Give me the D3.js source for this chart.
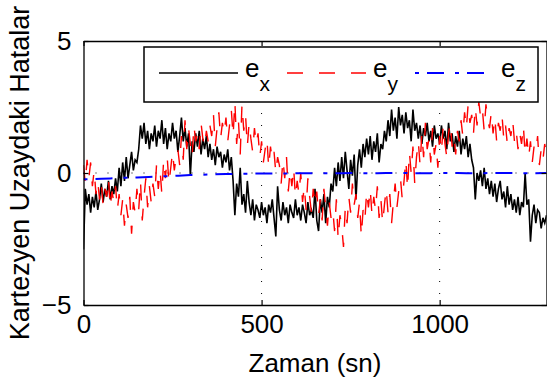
<!DOCTYPE html>
<html>
<head>
<meta charset="utf-8">
<script src="https://cdn.jsdelivr.net/npm/d3@7"></script>
<style>
  body { margin: 0; background: #fff; }
  text { font-family: "Liberation Sans", Arial, Helvetica, sans-serif; fill: #000; }
</style>
</head>
<body>
<div class="chart"></div>
<script>
// sample times (sn), one every 5 seconds
var times = d3.range(0, 1305, 5);

// e_x (black, solid)
var ex = [
  -2.9, -0.6, -1.2, -0.8, -1.5, -0.9, -1.3, -0.7, -1.4, -1.0,
  -0.4, -1.1, -0.6, -0.9, -0.3, -1.0, -0.5, -0.8, -0.2, -0.7,
  0.2, -0.5, 0.4, -0.3, 0.6, -0.2, 0.3, 0.8, 0.1, 0.5,
  0.4, 0.9, 1.8, 1.3, 1.9, 1.1, 1.6, 0.9, 1.5, 1.2,
  1.8, 1.0, 1.6, 1.3, 2.0, 1.1, 1.7, 0.9, 1.5, 1.2,
  1.9, 1.3, 1.6, 0.8, 1.4, 2.1, 1.2, 1.7, 1.0, 1.5,
  -0.1, 1.2, 0.8, 1.5, 1.0, 1.6, 0.7, 1.3, 0.9, 1.4,
  0.6, 1.1, 0.5, 0.9, 0.3, 1.0, 0.6, 0.8, 0.2, 0.7,
  0.4, 0.9, 0.1, 0.6, -0.3, -1.6, -0.4, -0.9, 0.2, -1.2,
  -0.8, -1.5, -0.3, -1.1, -1.6, -1.0, -1.8, -1.2, -1.4, -1.7,
  -1.1, -1.6, -1.3, -1.9, -1.2, -1.5, -1.0, -1.7, -2.4, -0.5,
  -1.4, -1.8, -1.1, -1.6, -1.3, -1.9, -1.2, -1.5, -1.7, -1.0,
  -1.6, -1.3, -1.8, -1.2, -1.5, -1.9, -1.1, -1.6, -1.4, -1.7,
  -0.6, -1.8, -2.2, -1.0, -1.5, -0.8, -1.9, -0.9, -1.3, -0.4,
  -0.7, 0.2, -0.5, 0.4, -0.3, 0.6, -0.2, 0.8, 0.1, -0.6,
  0.5, -0.1, 0.7, -1.0, 0.3, 0.9, 0.2, 1.1, 0.6, 1.3,
  0.7, 1.4, 0.5, 1.2, 0.8, 1.5, 0.4, 1.1, 0.9, 1.6,
  1.2, 2.0, 1.4, 2.4, 1.6, 2.1, 1.3, 2.5, 1.8, 2.2,
  1.5, 2.3, 1.7, 2.0, 1.2, 2.4, 1.6, 1.9, 1.3, 1.8,
  1.1, 1.7, 1.4, 1.9, 1.2, 1.6, 1.0, 1.8, 1.3, 1.5,
  1.1, 1.8, 1.3, 1.6, 0.9, 1.9, 1.2, 1.5, 0.8, 1.4,
  1.0, 1.6, 0.7, 1.3, 0.9, 1.4, 0.6, 1.1, 0.5, 0.2,
  -1.0, 0.0, -0.3, 0.1, -0.5, 0.2, -0.6, -0.2, -0.8, -0.3,
  -0.9, -0.4, -1.1, -0.6, -0.3, -1.0, -0.7, -1.3, -0.5, -1.2,
  -0.8, -1.4, -1.0, -1.5, -0.9, -1.6, -1.1, -1.3, 0.0, -1.2,
  -1.0, -2.6, -1.6, -1.2, -1.9, -1.4, -1.5, -2.1, -1.7, -1.9,
  -1.6
];

// e_y (red, dashed)
var ey = [
  0.3, -0.4, 0.5, -0.2, 0.4, -0.5, 0.1, -0.8, -0.3, -1.0,
  -0.4, -1.2, -0.6, -0.9, -0.2, -1.3, -0.7, -1.1, -0.5, -1.4,
  -0.8, -1.6, -1.0, -2.0, -1.2, -1.7, -0.9, -2.3, -1.1, -1.5,
  -0.6, -1.4, -0.3, -1.8, -0.9, -0.2, -1.3, -0.5, -1.1, -0.4,
  -0.9, 0.3, -0.6, 0.1, -0.8, 0.5, -0.2, 0.6, -0.4, 0.2,
  0.8, 0.1, 0.6, 0.9, 0.3, 1.4, 0.5, 2.0, 0.9, 1.7,
  1.1, 0.6, 1.8, 1.2, 1.5, 0.9, 1.9, 1.3, 1.0, 1.6,
  1.2, 1.8, 1.4, 2.2, 1.0, 1.7, 2.3, 1.3, 1.9, 1.5,
  2.1, 1.2, 1.8, 2.4, 1.4, 2.7, 1.1, 2.0, 0.7, 2.6,
  1.6, 2.2, 1.0, 1.9, 1.3, 0.8, 1.7, 1.1, 1.5, 0.6,
  1.2, 0.4, 0.9, 1.3, 0.2, 1.0, 0.5, 0.8, 0.0, 0.6,
  0.3, -0.4, 0.5, -0.2, 0.6, -0.7, 0.1, -0.5, 0.2, -0.9,
  -0.3, -0.8, 0.0, -1.1, -0.5, -1.4, -0.2, -0.9, -1.5, -0.6,
  -1.2, -0.7, -1.6, -1.0, -1.8, -0.6, -1.3, -2.0, -1.1, -1.7,
  -1.4, -2.2, -1.0, -2.5, -1.6, -2.0, -2.8, -1.3, -1.9, -0.9,
  -1.5, -0.4, -1.2, -0.8, -1.7, -1.1, -2.4, -1.4, -1.8, -0.7,
  -1.3, -0.6, -1.6, -0.9, -1.4, -0.5, -1.7, -1.0, -1.9, -1.2,
  -0.6, -1.5, -0.8, -1.9, -1.1, -0.4, -1.3, -0.7, -0.2, -1.0,
  -0.3, 0.5, -0.6, 0.8, 0.0, 1.0, -0.4, 0.6, 1.2, 0.3,
  1.5, 0.6, 1.9, 0.9, 1.3, 0.4, 1.7, 0.7, 1.1, 0.2,
  1.4, 0.8, 1.8, 1.1, 0.6, 1.5, 1.9, 1.0, 1.4, 0.7,
  1.6, 1.2, 2.0, 1.4, 2.3, 1.7, 2.6, 1.9, 2.2, 1.5,
  2.5, 1.8, 2.7, 2.1, 2.4, 1.6, 2.6, 2.0, 1.7, 2.3,
  1.5, 2.1, 1.2, 1.9, 1.6, 2.2, 1.3, 1.8, 1.1, 1.7,
  1.4, 2.0, 1.2, 1.6, 0.9, 1.5, 1.1, 1.8, 0.7, 1.3,
  0.6, 1.2, 0.4, 1.0, 0.8, 1.4, 0.3, 0.9, 0.5, 1.1,
  0.7
];

// e_z (blue, dash-dot), one value every 50 seconds
var ezTimes = d3.range(0, 1350, 50);
var ez = [
  -0.24, -0.22, -0.19, -0.17, -0.14, -0.11, -0.08, -0.06, -0.04, -0.03,
  -0.02, -0.02, -0.01, -0.01, -0.01, 0.0, -0.01, 0.0, 0.0, -0.01,
  0.0, 0.0, -0.01, 0.0, 0.0, -0.01, 0.0
];

var xTicks = [0, 500, 1000];
var yTicks = [-5, 0, 5];
var legendLabels = [["e", "x"], ["e", "y"], ["e", "z"]];

var width = 547, height = 385;
var mLeft = 83.5, mRight = 546.5, mTop = 41, mBottom = 305;

var x = d3.scaleLinear().domain([0, 1300]).range([mLeft, mRight]);
var y = d3.scaleLinear().domain([-5, 5]).range([mBottom, mTop]);

var svg = d3.select(".chart")
  .append("svg")
  .attr("width", width)
  .attr("height", height);

svg.append("defs").append("clipPath")
  .attr("id", "plot-clip")
  .append("rect")
  .attr("x", mLeft).attr("y", mTop)
  .attr("width", mRight - mLeft).attr("height", mBottom - mTop);

// dotted grid
svg.append("g")
  .selectAll("line")
  .data(xTicks.slice(1))
  .enter()
  .append("line")
  .attr("x1", function (d) { return x(d); })
  .attr("x2", function (d) { return x(d); })
  .attr("y1", mTop).attr("y2", mBottom)
  .style("stroke", "#000")
  .style("stroke-width", 1)
  .style("stroke-dasharray", "1,11");

svg.append("line")
  .attr("x1", mLeft).attr("x2", mRight)
  .attr("y1", y(0)).attr("y2", y(0))
  .style("stroke", "#000")
  .style("stroke-width", 1)
  .style("stroke-dasharray", "1,11");

var plot = svg.append("g").attr("clip-path", "url(#plot-clip)");

var line = d3.line()
  .x(function (d) { return x(d[0]); })
  .y(function (d) { return y(d[1]); });

plot.append("path")
  .datum(d3.zip(times, ex))
  .attr("d", line)
  .style("fill", "none")
  .style("stroke", "#000")
  .style("stroke-width", 1.6);

plot.append("path")
  .datum(d3.zip(times, ey))
  .attr("d", line)
  .style("fill", "none")
  .style("stroke", "#ff0000")
  .style("stroke-width", 1.4)
  .style("stroke-dasharray", "16,16");

plot.append("path")
  .datum(d3.zip(ezTimes, ez))
  .attr("d", line.curve(d3.curveMonotoneX))
  .style("fill", "none")
  .style("stroke", "#0000ff")
  .style("stroke-width", 2)
  .style("stroke-dasharray", "4,8,17,11");

// axes box with inward ticks (matlab style)
var tickLen = 5;
svg.append("g")
  .attr("transform", "translate(0," + mBottom + ")")
  .call(d3.axisBottom(x).tickValues(xTicks).tickSizeInner(-tickLen).tickSizeOuter(0).tickPadding(10).tickFormat(d3.format("d")));
svg.append("g")
  .attr("transform", "translate(0," + mTop + ")")
  .call(d3.axisTop(x).tickValues(xTicks).tickSizeInner(-tickLen).tickSizeOuter(0).tickFormat(""));
svg.append("g")
  .attr("transform", "translate(" + mLeft + ",0)")
  .call(d3.axisLeft(y).tickValues(yTicks).tickSizeInner(-tickLen).tickSizeOuter(0).tickPadding(12)
    .tickFormat(function (d) { return d < 0 ? "\u2212" + Math.abs(d) : d; }));
svg.append("g")
  .attr("transform", "translate(" + mRight + ",0)")
  .call(d3.axisRight(y).tickValues(yTicks).tickSizeInner(-tickLen).tickSizeOuter(0).tickFormat(""));

svg.selectAll(".domain").style("stroke", "#000").style("stroke-width", 1.3);
svg.selectAll(".tick line").style("stroke", "#000").style("stroke-width", 1.2);
svg.selectAll(".tick text")
  .style("font-family", "'Liberation Sans', Arial, sans-serif")
  .style("font-size", "26px")
  .style("fill", "#000");

// axis titles
svg.append("text")
  .attr("x", (mLeft + mRight) / 2)
  .attr("y", 372)
  .attr("text-anchor", "middle")
  .style("font-size", "26px")
  .text("Zaman (sn)");

svg.append("text")
  .attr("transform", "translate(29," + 173 + ") rotate(-90)")
  .attr("text-anchor", "middle")
  .style("font-size", "27px")
  .text("Kartezyen Uzaydaki Hatalar");

// legend
var legend = svg.append("g");
legend.append("rect")
  .attr("x", 144).attr("y", 47)
  .attr("width", 394).attr("height", 55)
  .style("fill", "#fff")
  .style("stroke", "#000")
  .style("stroke-width", 1.5);

var legendStyles = [
  { color: "#000", dash: null, w: 1.6, x0: 159 },
  { color: "#ff0000", dash: "16,16", w: 1.4, x0: 287 },
  { color: "#0000ff", dash: "4,8,17,11", w: 2, x0: 415 }
];

var items = legend.selectAll("g.item")
  .data(legendLabels)
  .enter()
  .append("g")
  .attr("class", "item");

items.append("line")
  .attr("x1", function (d, i) { return legendStyles[i].x0; })
  .attr("x2", function (d, i) { return legendStyles[i].x0 + 79; })
  .attr("y1", 73).attr("y2", 73)
  .style("stroke", function (d, i) { return legendStyles[i].color; })
  .style("stroke-width", function (d, i) { return legendStyles[i].w; })
  .style("stroke-dasharray", function (d, i) { return legendStyles[i].dash; });

var lt = items.append("text")
  .attr("x", function (d, i) { return legendStyles[i].x0 + 86; })
  .attr("y", 77)
  .style("font-size", "26px");
lt.append("tspan").text(function (d) { return d[0]; });
lt.append("tspan")
  .attr("dy", 14)
  .style("font-size", "21px")
  .text(function (d) { return d[1]; });
</script>
</body>
</html>
